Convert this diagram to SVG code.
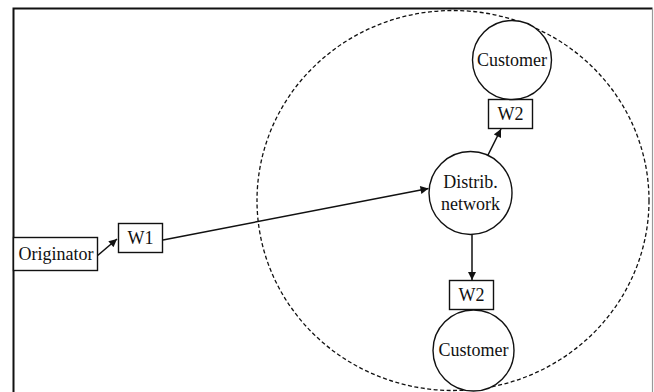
<svg xmlns="http://www.w3.org/2000/svg" width="654" height="392" viewBox="0 0 654 392">
<style>
.t{font-family:'Liberation Serif','DejaVu Serif',serif;font-size:18px;fill:#111;text-anchor:middle}
.n{fill:#fff;stroke:#111;stroke-width:1.4}
.c{stroke:#111;stroke-width:1.5;fill:none}
</style>
<defs>
<marker id="ah" viewBox="0 0 10 10" refX="10" refY="5" markerWidth="9" markerHeight="8" markerUnits="userSpaceOnUse" orient="auto">
<path d="M0,0 L10,5 L0,10 z" fill="#111"/>
</marker>
</defs>
<rect x="0" y="0" width="654" height="392" fill="#fff"/>
<g id="frame">
<path d="M13.5,394 L13.5,8.5 L652.5,8.5" fill="none" stroke="#111" stroke-width="2"/>
<line x1="652.5" y1="8.5" x2="652.5" y2="394" stroke="#999" stroke-width="1.2"/>
</g>
<g id="region">
<ellipse cx="453" cy="200.5" rx="196" ry="190" fill="none" stroke="#111" stroke-width="1.3" stroke-dasharray="4,2.5"/>
</g>
<g id="connectors">
<line class="c" x1="97" y1="256" x2="117" y2="239" marker-end="url(#ah)"/>
<line class="c" x1="163" y1="240" x2="428.5" y2="188.5" marker-end="url(#ah)"/>
<line class="c" x1="488" y1="155" x2="501" y2="129" marker-end="url(#ah)"/>
<line class="c" x1="472" y1="235" x2="472" y2="280" marker-end="url(#ah)"/>
</g>
<g id="originator">
<rect class="n" x="13.5" y="237.5" width="84" height="33"/>
<text class="t" x="56" y="260">Originator</text>
</g>
<g id="w1">
<rect class="n" x="118.5" y="223.5" width="44" height="29"/>
<text class="t" x="140.5" y="244">W1</text>
</g>
<g id="distrib">
<circle class="n" cx="470.5" cy="193" r="41.5"/>
<text class="t" x="470.5" y="188">Distrib.</text>
<text class="t" x="470.5" y="210">network</text>
</g>
<g id="w2top">
<rect class="n" x="488.5" y="99.5" width="44" height="29"/>
<text class="t" x="510.5" y="120">W2</text>
</g>
<g id="customertop">
<circle class="n" cx="512" cy="60" r="39.5"/>
<text class="t" x="512" y="66">Customer</text>
</g>
<g id="w2bottom">
<rect class="n" x="449.5" y="280.5" width="44" height="29"/>
<text class="t" x="471.5" y="301">W2</text>
</g>
<g id="customerbottom">
<circle class="n" cx="473.5" cy="350.5" r="40.5"/>
<text class="t" x="473.5" y="356">Customer</text>
</g>
</svg>
